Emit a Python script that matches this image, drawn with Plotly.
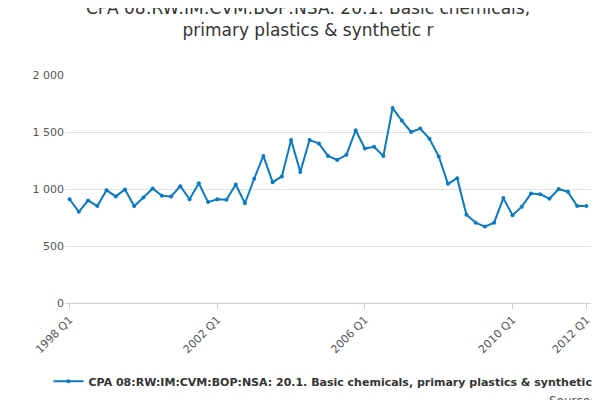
import plotly.graph_objects as go

# quarterly series 1998 Q1 .. 2012 Q1
quarters = [f"{y} Q{q}" for y in range(1998, 2013) for q in range(1, 5)][:57]
values = [910, 800, 900, 850, 990, 935, 995, 850, 925, 1005, 940, 935, 1025, 910,
          1050, 885, 910, 905, 1040, 875, 1090, 1290, 1060, 1110, 1430, 1150, 1430,
          1400, 1290, 1255, 1300, 1515, 1355, 1370, 1290, 1710, 1600, 1500, 1530,
          1440, 1285, 1045, 1095, 775, 705, 670, 705, 920, 770, 845, 960, 955, 915,
          1000, 975, 850, 850]
tick_labels = ["1998 Q1", "2002 Q1", "2006 Q1", "2010 Q1", "2012 Q1"]
series_name = "<b>CPA 08:RW:IM:CVM:BOP:NSA: 20.1. Basic chemicals, primary plastics & synthetic r</b>"

fig = go.Figure(go.Scatter(
    x=quarters, y=values, mode="lines+markers", name=series_name,
    line=dict(color="#0a7bc2", width=2), marker=dict(size=4, color="#0a7bc2"),
))

fig.update_layout(
    width=600, height=400,
    title=dict(text="CPA 08:RW:IM:CVM:BOP:NSA: 20.1. Basic chemicals,<br>primary plastics & synthetic r",
               x=0.5, xanchor="center", y=0.985, yanchor="top", font=dict(size=17, color="#333")),
    font=dict(family="DejaVu Sans", color="#555", size=11),
    plot_bgcolor="white", paper_bgcolor="white",
    margin=dict(l=57, r=17, t=67, b=102),
    showlegend=True,
    legend=dict(orientation="h", x=0.5, xanchor="center", y=-0.28, yanchor="top",
                font=dict(size=11, color="#333")),
    separators=". ",
)
fig.update_xaxes(tickmode="array", tickvals=tick_labels, ticktext=tick_labels,
                 tickangle=-45, showgrid=False, showline=True, linecolor="#ccc",
                 ticks="outside", tickcolor="#ccc", range=[-0.5, 56.5])
fig.update_yaxes(range=[0, 2000], dtick=500, gridcolor="#e0e0e0", zeroline=False,
                 tickformat=",")
fig.add_annotation(text="Source:", xref="paper", yref="paper", x=1.01, y=-0.39,
                   xanchor="right", yanchor="top", showarrow=False,
                   font=dict(size=12, color="#555"))

fig.write_html("out.html")
